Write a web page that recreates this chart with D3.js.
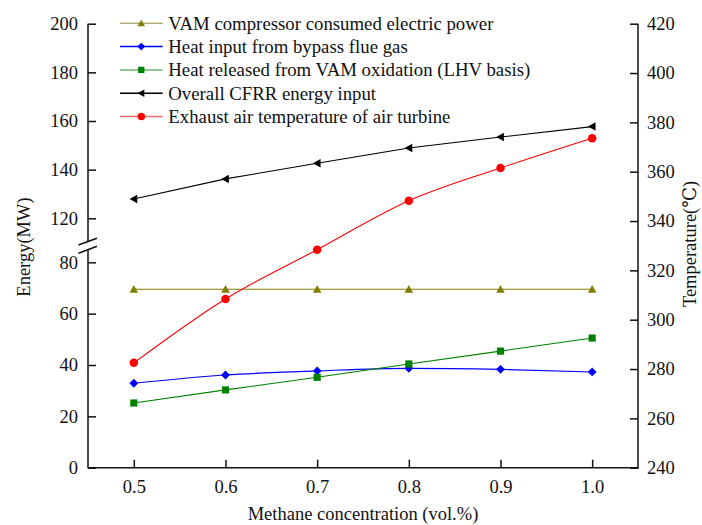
<!DOCTYPE html>
<html>
<head>
<script src="https://d3js.org/d3.v7.min.js"></script>
<style>
  body { margin: 0; background: #fff; }
  svg text { font-family: "Liberation Serif", "DejaVu Serif", serif; font-size: 18.5px; fill: #111; }
  .axis line, .axis path { stroke: #111; stroke-width: 1.5px; }
</style>
</head>
<body>
<svg id="chart" width="702" height="525"></svg>
<script>
'use strict';

// data
var concentration = [0.5, 0.6, 0.7, 0.8, 0.9, 1.0];
var compressorPower = [69.5, 69.5, 69.5, 69.5, 69.5, 69.5];
var bypassHeat = [32.9, 36.1, 37.7, 38.7, 38.3, 37.3];
var oxidationHeat = [25.2, 30.3, 35.2, 40.4, 45.4, 50.5];
var overallInput = [127.9, 136.2, 142.6, 148.9, 153.4, 157.7];
var exhaustTemp = [282.5, 308.4, 328.4, 348.2, 361.5, 373.6];

var xTicks = [0.5, 0.6, 0.7, 0.8, 0.9, 1.0];
var lowTicks = [0, 20, 40, 60, 80];
var highTicks = [120, 140, 160, 180, 200];
var tempTicks = [240, 260, 280, 300, 320, 340, 360, 380, 400, 420];

var seriesNames = [
  "VAM compressor consumed electric power",
  "Heat input from bypass flue gas",
  "Heat released from VAM oxidation (LHV basis)",
  "Overall CFRR energy input",
  "Exhaust air temperature of air turbine"
];

var svg = d3.select("#chart");
var FONT = "'Liberation Serif', 'DejaVu Serif', serif";

var pLeft = 88, pRight = 638, pBottom = 467.7, pTop = 23.7;
var x = d3.scaleLinear().domain([0.45, 1.05]).range([pLeft, pRight]);
var yLow = d3.scaleLinear().domain([0, 80]).range([pBottom, 262.3]);
var yHigh = d3.scaleLinear().domain([120, 200]).range([218.3, pTop]);
var yT = d3.scaleLinear().domain([240, 420]).range([pBottom, pTop]);

// energy values live on a broken axis
function yE(v) { return v >= 100 ? yHigh(v) : yLow(v); }

// axes
var gx = svg.append("g").attr("class", "axis")
  .attr("transform", "translate(0," + pBottom + ")")
  .call(d3.axisBottom(x).tickValues(xTicks).tickSize(-8).tickPadding(12)
    .tickFormat(d3.format(".1f")));
gx.select(".domain").remove();

var gl1 = svg.append("g").attr("class", "axis")
  .attr("transform", "translate(" + pLeft + ",0)")
  .call(d3.axisLeft(yLow).tickValues(lowTicks).tickSize(-8).tickPadding(10));
var gl2 = svg.append("g").attr("class", "axis")
  .attr("transform", "translate(" + pLeft + ",0)")
  .call(d3.axisLeft(yHigh).tickValues(highTicks).tickSize(-8).tickPadding(10));
gl1.select(".domain").remove();
gl2.select(".domain").remove();

var gr = svg.append("g").attr("class", "axis")
  .attr("transform", "translate(" + pRight + ",0)")
  .call(d3.axisRight(yT).tickValues(tempTicks).tickSize(-8).tickPadding(9));
gr.select(".domain").remove();

svg.selectAll(".axis").attr("font-family", null).attr("font-size", null);

var axisLines = svg.append("g").attr("stroke", "#111").attr("stroke-width", 1.5);
axisLines.append("line").attr("x1", pLeft - 0.5).attr("x2", pRight + 0.75).attr("y1", pBottom).attr("y2", pBottom);
axisLines.append("line").attr("x1", pLeft).attr("x2", pLeft).attr("y1", pTop).attr("y2", 241.5);
axisLines.append("line").attr("x1", pLeft).attr("x2", pLeft).attr("y1", 249).attr("y2", pBottom);
axisLines.append("line").attr("x1", pRight).attr("x2", pRight).attr("y1", pTop).attr("y2", pBottom + 0.75);
// break marks
axisLines.append("line").attr("x1", pLeft - 9.5).attr("y1", 245).attr("x2", pLeft + 9).attr("y2", 238.3);
axisLines.append("line").attr("x1", pLeft - 9.5).attr("y1", 253.3).attr("x2", pLeft + 9).attr("y2", 246.3);

// axis titles
svg.append("text").attr("x", (pLeft + pRight) / 2).attr("y", 520)
  .attr("text-anchor", "middle").text("Methane concentration (vol.%)");
svg.append("text").attr("transform", "translate(30,247) rotate(-90)")
  .attr("text-anchor", "middle").text("Energy(MW)");
svg.append("text").attr("transform", "translate(696,244) rotate(-90)")
  .attr("text-anchor", "middle").text("Temperature(℃)");

// series
var series = [
  { name: seriesNames[0], values: compressorPower, y: yE, color: "#808000", legendColor: "#b2ad78", symbol: "up", curve: d3.curveLinear },
  { name: seriesNames[1], values: bypassHeat, y: yE, color: "#0000ff", legendColor: "#0000ff", symbol: "diamond", curve: d3.curveMonotoneX },
  { name: seriesNames[2], values: oxidationHeat, y: yE, color: "#008000", legendColor: "#6cb56c", symbol: "square", curve: d3.curveLinear },
  { name: seriesNames[3], values: overallInput, y: yE, color: "#000000", legendColor: "#000000", symbol: "left", curve: d3.curveLinear },
  { name: seriesNames[4], values: exhaustTemp, y: yT, color: "#ff0000", legendColor: "#ff6a6a", symbol: "circle", curve: d3.curveMonotoneX }
];

function marker(sel, symbol, s, color) {
  if (symbol === "circle") {
    sel.append("circle").attr("r", s * 0.5).attr("fill", color);
  } else if (symbol === "square") {
    sel.append("rect").attr("x", -s * 0.42).attr("y", -s * 0.42)
      .attr("width", s * 0.84).attr("height", s * 0.84).attr("fill", color);
  } else if (symbol === "diamond") {
    var d = s * 0.52;
    sel.append("path").attr("d", "M0," + (-d) + "L" + d + ",0L0," + d + "L" + (-d) + ",0Z").attr("fill", color);
  } else if (symbol === "up") {
    var h = s * 0.5;
    sel.append("path").attr("d", "M0," + (-h) + "L" + h + "," + (h * 0.8) + "L" + (-h) + "," + (h * 0.8) + "Z").attr("fill", color);
  } else if (symbol === "left") {
    var w = s * 0.5;
    sel.append("path").attr("d", "M" + (-w) + ",0L" + (w * 0.8) + "," + (-w) + "L" + (w * 0.8) + "," + w + "Z").attr("fill", color);
  }
}

var plot = svg.append("g");
series.forEach(function (s) {
  var line = d3.line()
    .x(function (d, i) { return x(concentration[i]); })
    .y(function (d) { return s.y(d); })
    .curve(s.curve);
  plot.append("path").datum(s.values)
    .attr("d", line).attr("fill", "none")
    .attr("stroke", s.color).attr("stroke-width", 1.1);
  s.values.forEach(function (v, i) {
    var g = plot.append("g").attr("transform", "translate(" + x(concentration[i]) + "," + s.y(v) + ")");
    marker(g, s.symbol, 8.5, s.color);
  });
});

// legend
var legend = svg.append("g");
series.forEach(function (s, i) {
  var yy = 23.3 + i * 23.3;
  legend.append("line").attr("x1", 120).attr("x2", 162.7).attr("y1", yy).attr("y2", yy)
    .attr("stroke", s.legendColor).attr("stroke-width", 1.5);
  var g = legend.append("g").attr("transform", "translate(141.3," + yy + ")");
  marker(g, s.symbol, 7.5, s.color);
  legend.append("text").attr("class", "legend-text")
    .attr("x", 168.3).attr("y", yy).attr("dy", "0.35em").text(s.name);
});

svg.selectAll("text").style("font-family", FONT).style("font-size", "18.5px").style("fill", "#111");
svg.selectAll(".legend-text").style("font-size", "18.8px");
</script>
</body>
</html>
